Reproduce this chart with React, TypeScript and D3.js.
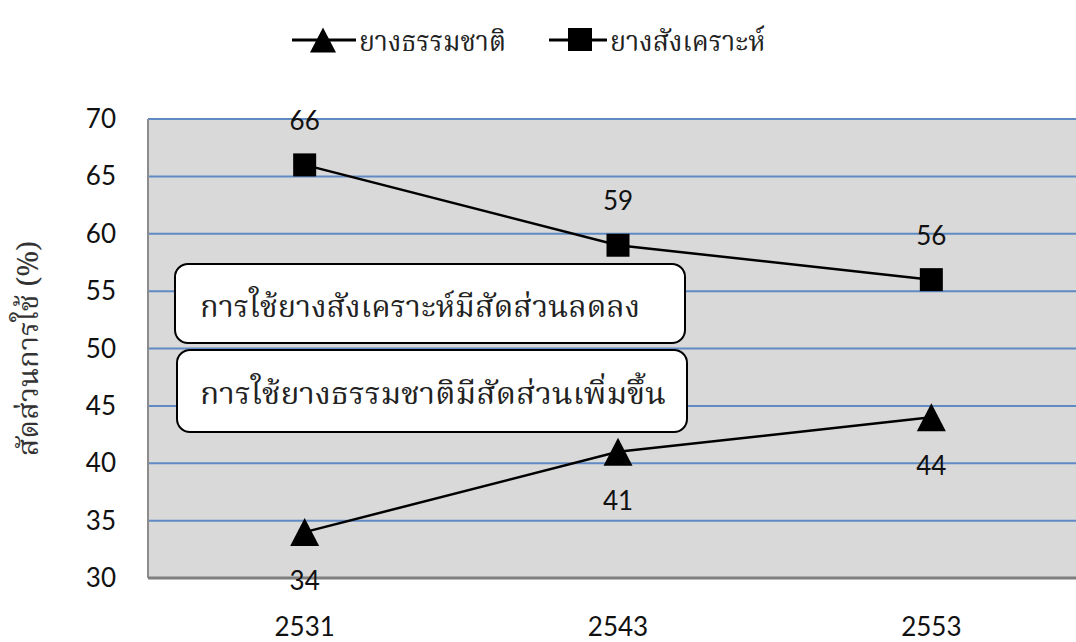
import React from "react";
import * as d3 from "d3";

const years = ["2531", "2543", "2553"];
const naturalRubber = [34, 41, 44];
const syntheticRubber = [66, 59, 56];
const yTicks = [30, 35, 40, 45, 50, 55, 60, 65, 70];
const seriesNames = ["ยางธรรมชาติ", "ยางสังเคราะห์"];
const notes = ["การใช้ยางสังเคราะห์มีสัดส่วนลดลง", "การใช้ยางธรรมชาติมีสัดส่วนเพิ่มขึ้น"];
const yTitle = "สัดส่วนการใช้ (%)";

const W = 1076;
const H = 642;
const plotLeft = 148;
const plotTop = 119;
const plotBottom = 578;
const plotRight = 1088;

const numFont = "Lato, 'Open Sans', sans-serif";
const thaiFont = "'Noto Serif Thai', 'Noto Sans Thai', 'Loma', 'Garuda', serif";

const triPath = (w: number, h: number) => `M0,${-h / 2}L${w / 2},${h / 2}L${-w / 2},${h / 2}Z`;

export default function App() {
  const x = d3.scaleBand().domain(years).range([plotLeft, plotRight]).padding(0);
  const y = d3.scaleLinear().domain([30, 70]).range([plotBottom, plotTop]);
  const cx = (d: string) => (x(d) as number) + x.bandwidth() / 2;
  const line = d3
    .line<number>()
    .x((_, i) => cx(years[i]))
    .y((v) => y(v));
  const sq = 23;
  const legY = 40;

  return (
    <svg width={W} height={H} style={{ position: "absolute", left: 0, top: 0, background: "#fff" }}>
      {/* legend */}
      <g>
        <line x1={292} x2={356} y1={legY} y2={legY} stroke="#000" strokeWidth={3} />
        <path d={triPath(26, 25)} transform={`translate(323,${legY})`} fill="#000" />
        <text x={359} y={legY + 11} fontFamily={thaiFont} fontSize={29} fill="#222" textLength={147} lengthAdjust="spacingAndGlyphs">
          {seriesNames[0]}
        </text>
        <line x1={549} x2={607} y1={legY} y2={legY} stroke="#000" strokeWidth={3} />
        <rect x={580 - 12} y={legY - 12} width={24} height={23} fill="#000" />
        <text x={610} y={legY + 11} fontFamily={thaiFont} fontSize={29} fill="#222" textLength={155} lengthAdjust="spacingAndGlyphs">
          {seriesNames[1]}
        </text>
      </g>

      {/* plot area */}
      <rect x={plotLeft} y={plotTop} width={plotRight - plotLeft} height={plotBottom - plotTop} fill="#d9d9d9" />
      {yTicks.map((t) => (
        <line key={t} x1={plotLeft} x2={plotRight} y1={y(t)} y2={y(t)} stroke="#5f8ac4" strokeWidth={2} />
      ))}
      <line x1={plotLeft} x2={plotLeft} y1={plotTop} y2={plotBottom} stroke="#8c8c8c" strokeWidth={2} />
      <line x1={plotLeft} x2={plotRight} y1={plotBottom} y2={plotBottom} stroke="#7f7f7f" strokeWidth={3} />

      {/* y tick labels */}
      {yTicks.map((t) => (
        <text key={t} x={116} y={y(t) + 9} textAnchor="end" fontFamily={numFont} fontSize={26} fill="#111">
          {t}
        </text>
      ))}
      {/* x tick labels */}
      {years.map((yr) => (
        <text key={yr} x={cx(yr)} y={636} textAnchor="middle" fontFamily={numFont} fontSize={26} fill="#111">
          {yr}
        </text>
      ))}
      {/* y title */}
      <text
        transform={`translate(38,${(plotTop + plotBottom) / 2}) rotate(-90)`}
        textAnchor="middle"
        fontFamily={thaiFont}
        fontSize={29}
        fill="#333"
      >
        {yTitle}
      </text>

      {/* lines */}
      <path d={line(syntheticRubber) as string} fill="none" stroke="#000" strokeWidth={2.5} />
      <path d={line(naturalRubber) as string} fill="none" stroke="#000" strokeWidth={2.5} />

      {/* markers */}
      {syntheticRubber.map((v, i) => (
        <rect key={i} x={cx(years[i]) - sq / 2} y={y(v) - sq / 2} width={sq} height={sq} fill="#000" />
      ))}
      {naturalRubber.map((v, i) => (
        <path key={i} d={triPath(29, 28)} transform={`translate(${cx(years[i])},${y(v)})`} fill="#000" />
      ))}

      {/* data labels */}
      {syntheticRubber.map((v, i) => (
        <text key={i} x={cx(years[i])} y={y(v) - 35} textAnchor="middle" fontFamily={numFont} fontSize={26} fill="#111">
          {v}
        </text>
      ))}
      {naturalRubber.map((v, i) => (
        <text key={i} x={cx(years[i])} y={y(v) + 58} textAnchor="middle" fontFamily={numFont} fontSize={26} fill="#111">
          {v}
        </text>
      ))}

      {/* annotation boxes */}
      <rect x={175} y={264} width={510} height={79} rx={13} fill="#fff" stroke="#000" strokeWidth={2} />
      <text x={200} y={317} fontFamily={thaiFont} fontSize={30} fill="#222" textLength={440} lengthAdjust="spacingAndGlyphs">
        {notes[0]}
      </text>
      <rect x={177} y={350} width={510} height={82} rx={13} fill="#fff" stroke="#000" strokeWidth={2} />
      <text x={200} y={404} fontFamily={thaiFont} fontSize={30} fill="#222" textLength={466} lengthAdjust="spacingAndGlyphs">
        {notes[1]}
      </text>
    </svg>
  );
}
